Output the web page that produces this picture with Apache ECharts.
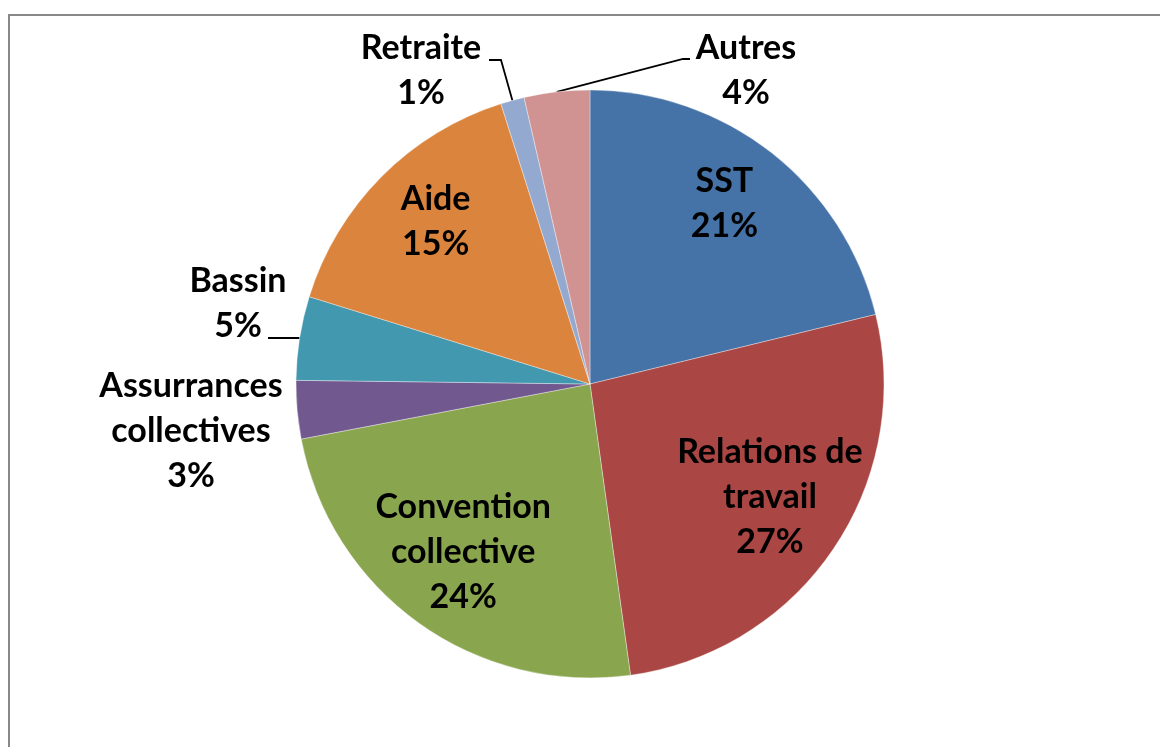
<!DOCTYPE html>
<html>
<head>
<meta charset="utf-8">
<script src="https://cdn.jsdelivr.net/npm/echarts@6/dist/echarts.min.js"></script>
<style>
html,body{margin:0;padding:0;background:#fff;overflow:hidden;}
#frame{position:absolute;left:8px;top:14px;width:1300px;height:900px;border:2px solid #888;}
#chart01{position:absolute;left:0;top:0;width:1160px;height:747px;}
</style>
</head>
<body>
<div id="frame"></div>
<div id="chart01"></div>
<script>
var categories = ['SST', 'Relations de\ntravail', 'Convention\ncollective', 'Assurrances\ncollectives', 'Bassin', 'Aide', 'Retraite', 'Autres'];
var shares = [21.2, 26.6, 24.2, 3.2, 4.6, 15.3, 1.3, 3.6];
var colors = ['#4572A7', '#AA4643', '#89A54E', '#71588F', '#4198AF', '#DB843D', '#93A9CF', '#D19392'];
var insideLabels = ['SST', 'Relations de\ntravail', 'Convention\ncollective', 'Aide'];

var CX = 590, CY = 384, R = 294;

// where the labels of the thin slices sit, and the bend of their leader line
var outsideSpots = {
        'Assurrances\ncollectives': {label: [191, 431]},
        'Bassin': {label: [238, 304], line: [[268, 338], [268, 338]]},
        'Retraite': {label: [421, 71], line: [[501, 60], [489, 60]]},
        'Autres': {label: [746, 71], line: [[683, 59], [690, 59]]}
};

var total = shares.reduce(function (s, v) { return s + v; }, 0);
var acc = 0;
var midAngles = shares.map(function (v) {
        var a = (acc + v / 2) / total * Math.PI * 2;
        acc += v;
        return a;
});
function polar(a, r) {
        return [CX + r * Math.sin(a), CY - r * Math.cos(a)];
}

(function () {
        var myChart = echarts.init(document.getElementById('chart01'));

        var option = {
                animation: false,
                series: [
                        {
                                type: 'pie',
                                center: [CX, CY],
                                radius: R,
                                startAngle: 90,
                                clockwise: true,
                                avoidLabelOverlap: false,
                                silent: true,
                                itemStyle: {
                                        borderColor: 'rgba(255,255,255,0.6)',
                                        borderWidth: 0.6
                                },
                                label: {
                                        position: 'outside',
                                        color: '#000',
                                        fontFamily: 'Lato',
                                        fontWeight: 'bold',
                                        fontSize: 34,
                                        lineHeight: 45,
                                        formatter: function (p) {
                                                return p.name + '\n' + Math.round(p.percent) + '%';
                                        }
                                },
                                labelLine: {
                                        lineStyle: {color: '#000', width: 1.8}
                                },
                                labelLayout: function (p) {
                                        var name = categories[p.dataIndex];
                                        var a = midAngles[p.dataIndex];
                                        if (insideLabels.indexOf(name) >= 0) {
                                                var pt = polar(a, R * 0.74);
                                                return {x: pt[0], y: pt[1] - 9, align: 'center', verticalAlign: 'middle'};
                                        }
                                        var s = outsideSpots[name];
                                        var res = {x: s.label[0], y: s.label[1], align: 'center', verticalAlign: 'middle'};
                                        if (s.line) {
                                                res.labelLinePoints = [polar(a, R)].concat(s.line);
                                        }
                                        return res;
                                },
                                data: categories.map(function (c, i) {
                                        return {
                                                name: c,
                                                value: shares[i],
                                                itemStyle: {color: colors[i]},
                                                labelLine: {show: !!(outsideSpots[c] && outsideSpots[c].line)}
                                        };
                                })
                        }
                ]
        };
        myChart.setOption(option);
})();
</script>
</body>
</html>
